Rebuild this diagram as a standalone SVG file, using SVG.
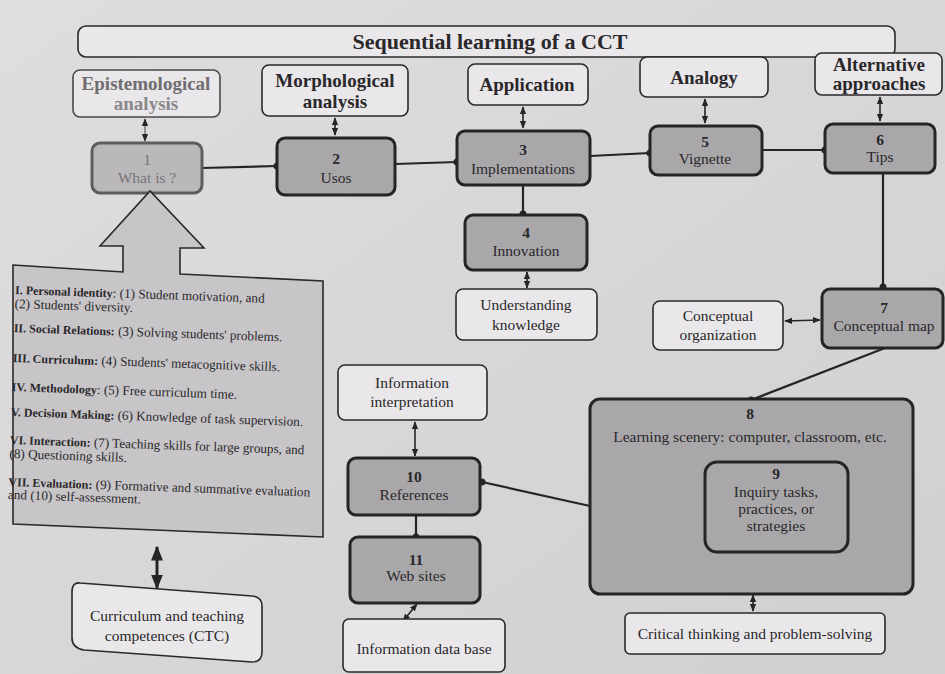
<svg xmlns="http://www.w3.org/2000/svg" width="945" height="674" viewBox="0 0 945 674" font-family="'Liberation Serif', 'DejaVu Serif', serif">
<defs>
<style>
text{font-family:'Liberation Serif','DejaVu Serif',serif;fill:#2a282a;text-anchor:middle}
.hd{font-weight:bold;font-size:19px}
.lb{font-size:15.5px}
.nb{font-weight:bold;font-size:15.5px}
.wbox{fill:#e9e7e9;stroke:#2a282a;stroke-width:1.6}
.gbox{fill:#a9a7aa;stroke:#262425;stroke-width:3}
.con{stroke:#262425;stroke-width:2.2;fill:none}
.lt{font-size:13.2px;text-anchor:start}
.b{font-weight:bold;font-size:12px}
</style>
<marker id="ah" viewBox="0 0 10 10" refX="9" refY="5" markerWidth="5" markerHeight="5" orient="auto-start-reverse"><path d="M0,1 L10,5 L0,9 z" fill="#262425"/></marker>
<marker id="dot" viewBox="0 0 10 10" refX="5" refY="5" markerWidth="4" markerHeight="4"><circle cx="5" cy="5" r="4" fill="#262425"/></marker>
<linearGradient id="bg" x1="0" y1="0" x2="1" y2="1"><stop offset="0" stop-color="#e0dde0"/><stop offset="1" stop-color="#d2cfd2"/></linearGradient>
</defs>
<rect width="945" height="674" fill="url(#bg)"/>

<g id="title"><rect x="78" y="26" width="817" height="31" rx="8" class="wbox"/><text x="490" y="49" style="font-weight:bold;font-size:22px">Sequential learning of a CCT</text></g>

<g id="connectors">
<line class="con" x1="202" y1="168" x2="277" y2="166" marker-end="url(#dot)"/>
<line class="con" x1="395" y1="164" x2="457" y2="162" marker-end="url(#dot)"/>
<line class="con" x1="590" y1="156" x2="650" y2="153" marker-end="url(#dot)"/>
<line class="con" x1="762" y1="150" x2="825" y2="150" marker-end="url(#dot)"/>
<line class="con" x1="145" y1="119" x2="145" y2="141" marker-start="url(#ah)" marker-end="url(#ah)" style="stroke:#7a787b;stroke-width:1.6"/>
<line class="con" x1="335" y1="118" x2="335" y2="135" marker-start="url(#ah)" marker-end="url(#ah)" style="stroke-width:1.6"/>
<line class="con" x1="523" y1="107" x2="523" y2="128" marker-start="url(#ah)" marker-end="url(#ah)" style="stroke-width:1.6"/>
<line class="con" x1="705" y1="99" x2="705" y2="123" marker-start="url(#ah)" marker-end="url(#ah)" style="stroke-width:1.6"/>
<line class="con" x1="880" y1="97" x2="880" y2="121" marker-start="url(#ah)" marker-end="url(#ah)" style="stroke-width:1.6"/>
<line class="con" x1="523" y1="185" x2="523" y2="214" marker-end="url(#dot)"/>
<line class="con" x1="527" y1="272" x2="527" y2="288" marker-start="url(#ah)" marker-end="url(#ah)" style="stroke-width:1.6"/>
<line class="con" x1="883" y1="173" x2="883" y2="287" marker-end="url(#dot)"/>
<line class="con" x1="785" y1="321" x2="820" y2="320" marker-start="url(#ah)" marker-end="url(#ah)" style="stroke-width:1.6"/>
<line class="con" x1="885" y1="348" x2="751" y2="400" marker-end="url(#dot)"/>
<line class="con" x1="415" y1="422" x2="415" y2="456" marker-start="url(#ah)" marker-end="url(#ah)" style="stroke-width:1.6"/>
<line class="con" x1="416" y1="515" x2="416" y2="537" marker-end="url(#dot)"/>
<line class="con" x1="417" y1="604" x2="403" y2="621" marker-start="url(#ah)" marker-end="url(#ah)" style="stroke-width:1.6"/>
<line class="con" x1="482" y1="482" x2="590" y2="506" marker-start="url(#dot)"/>
<line class="con" x1="753" y1="595" x2="753" y2="611" marker-start="url(#ah)" marker-end="url(#ah)" style="stroke-width:1.6"/>
<line class="con" x1="157" y1="547" x2="157" y2="588" marker-start="url(#ah)" marker-end="url(#ah)" style="stroke-width:3"/>
</g>

<g id="epistemological"><rect x="73" y="70" width="147" height="47" rx="7" class="wbox" style="stroke:#4a484a"/><text class="hd" x="146" y="90" style="fill:#6f6d70">Epistemological</text><text class="hd" x="146" y="110" style="fill:#8a888b">analysis</text></g>
<g id="morphological"><rect x="262" y="65" width="146" height="51" rx="7" class="wbox"/><text class="hd" x="335" y="87">Morphological</text><text class="hd" x="335" y="108">analysis</text></g>
<g id="application"><rect x="468" y="64" width="120" height="41" rx="7" class="wbox"/><text class="hd" x="527" y="91">Application</text></g>
<g id="analogy"><rect x="640" y="57" width="128" height="40" rx="7" class="wbox"/><text class="hd" x="704" y="84">Analogy</text></g>
<g id="alternative"><rect x="815" y="53" width="127" height="42" rx="7" class="wbox"/><text class="hd" x="879" y="71">Alternative</text><text class="hd" x="879" y="90">approaches</text></g>

<g id="n1"><rect x="92" y="143" width="110" height="50" rx="8" class="gbox" style="fill:#bab8bb;stroke:#5e5c5f"/><text class="lb" x="147" y="165" style="fill:#777578">1</text><text class="lb" x="147" y="183" style="fill:#777578">What is ?</text></g>
<g id="n2"><rect x="277" y="138" width="118" height="57" rx="8" class="gbox"/><text class="nb" x="336" y="164">2</text><text class="lb" x="336" y="183">Usos</text></g>
<g id="n3"><rect x="457" y="131" width="133" height="54" rx="8" class="gbox"/><text class="nb" x="523" y="155">3</text><text class="lb" x="523" y="174">Implementations</text></g>
<g id="n5"><rect x="650" y="126" width="112" height="49" rx="8" class="gbox"/><text class="nb" x="705" y="147">5</text><text class="lb" x="705" y="164">Vignette</text></g>
<g id="n6"><rect x="825" y="124" width="110" height="49" rx="8" class="gbox"/><text class="nb" x="880" y="145">6</text><text class="lb" x="880" y="162">Tips</text></g>
<g id="n4"><rect x="465" y="215" width="122" height="55" rx="8" class="gbox"/><text class="nb" x="526" y="238">4</text><text class="lb" x="526" y="256">Innovation</text></g>
<g id="understanding"><rect x="456" y="289" width="141" height="51" rx="7" class="wbox"/><text class="lb" x="526" y="310">Understanding</text><text class="lb" x="526" y="330">knowledge</text></g>
<g id="n7"><rect x="822" y="289" width="121" height="59" rx="8" class="gbox"/><text class="nb" x="884" y="313">7</text><text class="lb" x="884" y="331">Conceptual map</text></g>
<g id="conceptorg"><rect x="653" y="301" width="130" height="49" rx="7" class="wbox"/><text class="lb" x="718" y="321">Conceptual</text><text class="lb" x="718" y="340">organization</text></g>
<g id="n8"><rect x="590" y="399" width="323" height="195" rx="10" class="gbox"/><text class="nb" x="750" y="419">8</text><text class="lb" x="750" y="442">Learning scenery: computer, classroom, etc.</text></g>
<g id="n9"><rect x="705" y="462" width="143" height="90" rx="12" class="gbox"/><text class="nb" x="776" y="479">9</text><text class="lb" x="776" y="497">Inquiry tasks,</text><text class="lb" x="776" y="514">practices, or</text><text class="lb" x="776" y="531">strategies</text></g>
<g id="critical"><rect x="625" y="613" width="260" height="41" rx="5" class="wbox"/><text class="lb" x="755" y="639">Critical thinking and problem-solving</text></g>
<g id="infointerp"><rect x="338" y="365" width="149" height="55" rx="7" class="wbox"/><text class="lb" x="412" y="388">Information</text><text class="lb" x="412" y="407">interpretation</text></g>
<g id="n10"><rect x="348" y="458" width="132" height="57" rx="8" class="gbox"/><text class="nb" x="414" y="482">10</text><text class="lb" x="414" y="500">References</text></g>
<g id="n11"><rect x="350" y="537" width="130" height="66" rx="8" class="gbox"/><text class="nb" x="416" y="565">11</text><text class="lb" x="416" y="581">Web sites</text></g>
<g id="infodb"><rect x="343" y="619" width="162" height="53" rx="6" class="wbox"/><text class="lb" x="424" y="654">Information data base</text></g>

<g id="competences">
<path d="M13,265 L123,272 L123,246 L100,246 L150,191 L204,248 L180,248 L180,274 L323,281 L323,537 L13,524 Z" fill="#c7c5c8" stroke="#2a282a" stroke-width="1.6"/>
<g transform="rotate(2 15 294)">
<text class="lt" x="15" y="294"><tspan class="b">I. Personal identity</tspan>: (1) Student motivation, and</text>
<text class="lt" x="15" y="308">(2) Students' diversity.</text>
<text class="lt" x="15" y="332"><tspan class="b">II. Social Relations:</tspan> (3) Solving students' problems.</text>
<text class="lt" x="15" y="362"><tspan class="b">III. Curriculum:</tspan> (4) Students' metacognitive skills.</text>
<text class="lt" x="15" y="391"><tspan class="b">IV. Methodology</tspan>: (5) Free curriculum time.</text>
<text class="lt" x="15" y="416"><tspan class="b">V. Decision Making:</tspan> (6) Knowledge of task supervision.</text>
<text class="lt" x="15" y="444"><tspan class="b">VI. Interaction:</tspan> (7) Teaching skills for large groups, and</text>
<text class="lt" x="15" y="458">(8) Questioning skills.</text>
<text class="lt" x="15" y="486"><tspan class="b">VII. Evaluation:</tspan> (9) Formative and summative evaluation</text>
<text class="lt" x="15" y="499">and (10) self-assessment.</text>
</g>
</g>

<g id="ctc"><path d="M80,583 L252,596 Q262,597 262,606 L262,652 Q262,662 252,662 L84,650 Q72,648 72,638 L72,592 Q72,582 80,583 Z" class="wbox"/><text class="lb" x="167" y="621">Curriculum and teaching</text><text class="lb" x="167" y="641">competences (CTC)</text></g>
</svg>
